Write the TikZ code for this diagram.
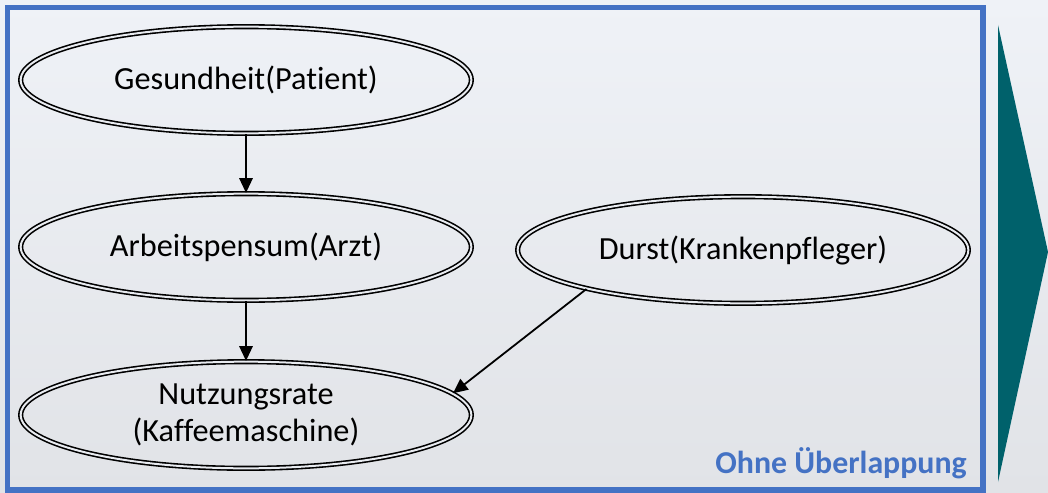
\documentclass[tikz,border=0pt]{standalone}
\usepackage{fontspec}
\setmainfont{Carlito}[Ligatures=NoCommon]
\usetikzlibrary{arrows.meta,shapes.geometric}

\definecolor{bgtop}{RGB}{239,242,247}
\definecolor{bgbot}{RGB}{225,227,231}
\definecolor{bgmid}{RGB}{232,235,240}
\definecolor{frameblue}{RGB}{68,114,196}
\definecolor{tealarrow}{RGB}{0,97,107}

\tikzset{
  state/.style={ellipse, draw=black, line width=1.2pt, double=bgmid,
    double distance=1.5pt, minimum width=338pt, minimum height=80pt,
    inner sep=0pt, align=center, font=\fontsize{24.2}{28}\selectfont},
  link/.style={line width=1.35pt, -{Triangle[length=11pt,width=10pt]}},
}

\begin{document}
\begin{tikzpicture}[x=0.75pt,y=-0.75pt]
  \useasboundingbox (0,0) rectangle (1048,492);
  % backdrop
  \shade[top color=bgtop, bottom color=bgbot] (0,0) rectangle (1048,492);

  % panel frame
  \draw[frameblue, line width=3.8pt] (7.5,7.5) rectangle (983,490);

  % big arrow to the right
  \fill[tealarrow] (998,25) -- (1048,252) -- (998,482) -- cycle;

  % variables
  \node[state] (g) at (246,80)  {Gesundheit(Patient)};
  \node[state] (a) at (246,247) {Arbeitspensum(Arzt)};
  \node[state] (d) at (743,250) {Durst(Krankenpfleger)};
  \node[state] (n) at (246,415) {Nutzungsrate\\(Kaffeemaschine)};

  % dependencies
  \draw[link] (g) -- (a);
  \draw[link] (a) -- (n);
  \draw[link] (d.194) -- (n.6);

  % panel caption
  \node[anchor=base east, text=frameblue, inner sep=0pt,
        font=\fontsize{23.9}{28}\selectfont\bfseries] (cap) at (967,473) {Ohne Überlappung};
\end{tikzpicture}
\end{document}
